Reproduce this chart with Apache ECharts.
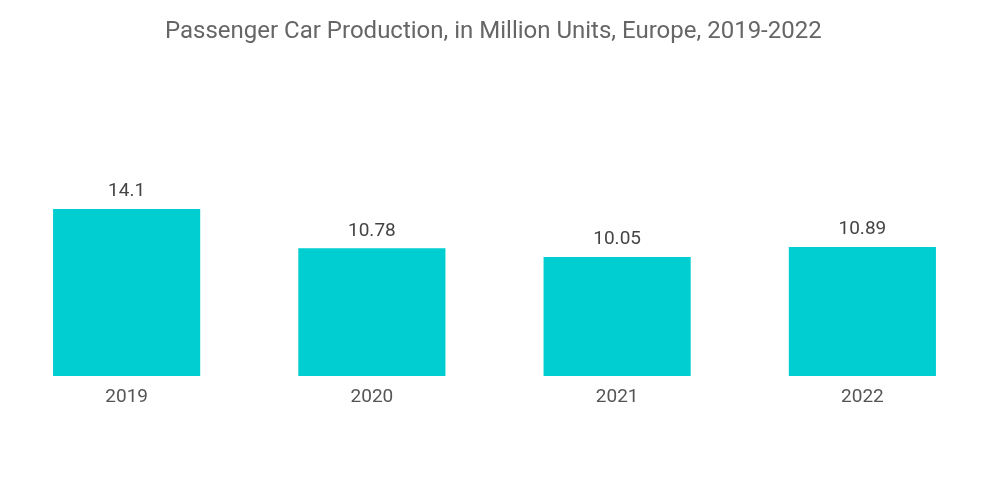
<!DOCTYPE html>
<html><head><meta charset="utf-8">
<script src="https://cdn.jsdelivr.net/npm/echarts@6/dist/echarts.min.js"></script>
<style>html,body{margin:0;padding:0;background:#fff}#c{width:1000px;height:504px}</style>
</head><body><div id="c"></div>
<script>
const categories = ['2019', '2020', '2021', '2022'];
const production = [14.1, 10.78, 10.05, 10.89];
const chart = echarts.init(document.getElementById('c'));
chart.setOption({
  animation: false,
  title: {
    text: 'Passenger Car Production, in Million Units, Europe, 2019-2022',
    left: 160, top: 15,
    textStyle: { color: '#666', fontSize: 24, fontWeight: 'normal', fontFamily: 'Roboto' }
  },
  grid: { left: 4, right: 15, top: 139, bottom: 128 },
  xAxis: {
    type: 'category', data: categories,
    axisLine: { show: false }, axisTick: { show: false },
    axisLabel: { color: '#555', fontSize: 19, fontFamily: 'Roboto', margin: 12 }
  },
  yAxis: { type: 'value', min: 0, max: 20, show: false, splitLine: { show: false } },
  series: [{
    type: 'bar', data: production, barWidth: '60%',
    itemStyle: { color: '#00ced1' },
    label: { show: true, position: 'top', color: '#444', fontSize: 19, fontFamily: 'Roboto', distance: 8 }
  }]
});
</script></body></html>
